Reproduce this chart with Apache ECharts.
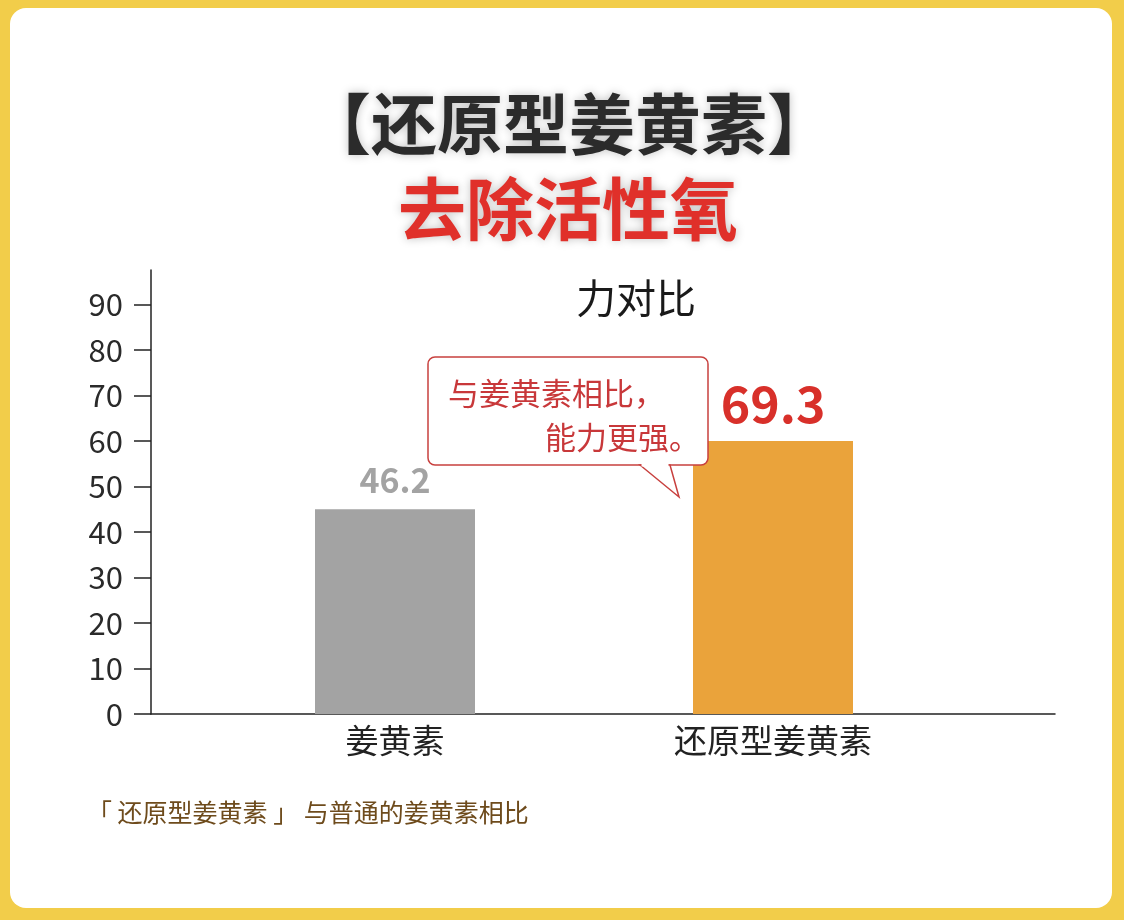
<!DOCTYPE html>
<html>
<head>
<meta charset="utf-8">
<script src="https://cdn.jsdelivr.net/npm/echarts@6/dist/echarts.min.js"></script>
<style>
  html, body { margin: 0; padding: 0; background: #f2cd4a; }
  .panel {
    position: absolute; left: 10px; top: 8px; width: 1102px; height: 900px;
    background: #fff; border-radius: 16px;
  }
  #chart { position: absolute; left: 0; top: 0; width: 1124px; height: 920px; }
</style>
</head>
<body>
<div class="panel"></div>
<div id="chart"></div>
<script>
const categories = ['姜黄素', '还原型姜黄素'];
const barValues = [45, 60];
const labelTexts = ['46.2', '69.3'];
const barColors = ['#a3a3a3', '#eaa33b'];
const yTicks = [0, 10, 20, 30, 40, 50, 60, 70, 80, 90];

const CJK = '"Noto Sans CJK SC", "Noto Sans", sans-serif';

const labelStyles = [
  {fontSize: 34, color: '#a3a3a3', distance: 12},
  {fontSize: 50, color: '#d8302a', distance: 12}
];

const chart = echarts.init(document.getElementById('chart'));

chart.setOption({
  backgroundColor: 'transparent',
  textStyle: {fontFamily: CJK},
  grid: [
    {left: 151, right: 69, top: 270, bottom: 206},
    {left: 206, right: 162, top: 270, bottom: 206}
  ],
  xAxis: [
    {
      gridIndex: 0, type: 'category', data: [''],
      axisLine: {lineStyle: {color: '#222', width: 1.5}},
      axisTick: {show: false}, axisLabel: {show: false}
    },
    {
      gridIndex: 1, type: 'category', data: categories,
      axisLine: {show: false}, axisTick: {show: false},
      axisLabel: {fontSize: 33, color: '#222', margin: 10, fontFamily: CJK}
    }
  ],
  yAxis: [
    {
      gridIndex: 0, type: 'value', min: 0, max: 97.6, interval: 10,
      axisLine: {show: true, lineStyle: {color: '#222', width: 1.5}},
      axisTick: {show: true, length: 17, customValues: yTicks, lineStyle: {color: '#222', width: 1.5}},
      axisLabel: {customValues: yTicks, fontSize: 31, color: '#2a2a2a', margin: 28, fontFamily: CJK},
      splitLine: {show: false}
    },
    {
      gridIndex: 1, type: 'value', min: 0, max: 97.6, interval: 10, show: false,
      splitLine: {show: false}
    }
  ],
  series: [
    {
      type: 'bar', xAxisIndex: 1, yAxisIndex: 1, barWidth: 160,
      data: barValues.map((v, i) => ({
        value: v,
        itemStyle: {color: barColors[i]},
        label: {
          show: true, position: 'top',
          formatter: labelTexts[i],
          fontWeight: 'bold',
          fontFamily: CJK,
          ...labelStyles[i]
        }
      }))
    }
  ],
  graphic: [
    {
      type: 'text', x: 569, y: 124,
      style: {
        text: '【还原型姜黄素】', font: 'bold 66px ' + CJK, fill: '#2b2b2b',
        align: 'center', verticalAlign: 'middle',
        textShadowColor: 'rgba(0,0,0,0.25)', textShadowBlur: 10
      }
    },
    {
      type: 'text', x: 568, y: 209,
      style: {
        text: '去除活性氧', font: 'bold 68px ' + CJK, fill: '#e0302a',
        align: 'center', verticalAlign: 'middle',
        textShadowColor: 'rgba(0,0,0,0.25)', textShadowBlur: 10
      }
    },
    {
      type: 'text', x: 636, y: 298,
      style: {text: '力对比', font: '40px ' + CJK, fill: '#1a1a1a', align: 'center', verticalAlign: 'middle'}
    },
    {
      type: 'polygon', z: 10,
      shape: {points: [[640, 465], [679, 497], [670, 465]]},
      style: {fill: '#fff', stroke: '#c8403e', lineWidth: 1.5}
    },
    {
      type: 'rect', z: 9,
      shape: {x: 428, y: 357, width: 280, height: 108, r: 7},
      style: {fill: '#fff', stroke: '#c8403e', lineWidth: 1.5}
    },
    {
      type: 'line', z: 11,
      shape: {x1: 641.5, y1: 465, x2: 668.5, y2: 465},
      style: {stroke: '#fff', lineWidth: 3}
    },
    {
      type: 'text', z: 12, x: 448, y: 393,
      style: {text: '与姜黄素相比，', font: '31px ' + CJK, fill: '#c8383a', verticalAlign: 'middle'}
    },
    {
      type: 'text', z: 12, x: 700, y: 437,
      style: {text: '能力更强。', font: '31px ' + CJK, fill: '#c8383a', align: 'right', verticalAlign: 'middle'}
    },
    {
      type: 'text', x: 87, y: 812,
      style: {text: '「 还原型姜黄素 」 与普通的姜黄素相比', font: '25px ' + CJK, fill: '#6e4b1c', verticalAlign: 'middle'}
    }
  ]
});
</script>
</body>
</html>
